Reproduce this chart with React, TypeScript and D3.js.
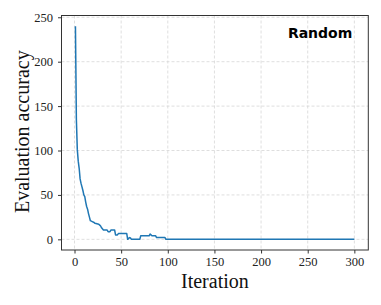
import React, { useRef, useEffect } from "react";
import * as d3 from "d3";

// change points of the evaluation curve (iteration, value)
const iterations = [1, 2, 3, 4, 5, 6, 7, 8, 9, 10, 11, 12, 13, 14, 15, 16, 17, 19, 21, 22, 26, 27, 28, 29, 31, 35, 36, 38, 39, 43, 44, 46, 47, 56, 57, 59, 60, 61, 70, 71, 80, 81, 82, 83, 87, 88, 97, 98, 300];
const values = [240, 135, 101, 88, 80, 68, 63, 59, 55, 50, 48, 42, 37, 34, 29, 25, 21, 20, 19, 18, 17, 16, 15, 13, 10.5, 10.5, 8.6, 8.6, 10.5, 10.5, 5, 5, 6.5, 6.5, 0, 2, 1.5, 0, 0, 4, 4, 6, 5, 4, 4, 2, 2, 0, 0];
const xTicks = [0, 50, 100, 150, 200, 250, 300];
const yTicks = [0, 50, 100, 150, 200, 250];

const W = 381;
const H = 305;
const margin = { top: 15.5, right: 12.7, bottom: 55, left: 61.5 };

const App: React.FC = () => {
  const svgRef = useRef<SVGSVGElement | null>(null);

  useEffect(() => {
    const svg = d3.select(svgRef.current);
    svg.selectAll("*").remove();

    const x0 = margin.left;
    const x1 = W - margin.right;
    const y0 = margin.top;
    const y1 = H - margin.bottom;

    const x = d3.scaleLinear().domain([-13.95, 314.95]).range([x0, x1]);
    const y = d3.scaleLinear().domain([-12, 252]).range([y1, y0]);

    const serif = "'Liberation Serif', 'Times New Roman', serif";

    // grid
    const grid = svg.append("g");
    grid
      .selectAll("line.gx")
      .data(xTicks)
      .join("line")
      .attr("x1", (d) => x(d))
      .attr("x2", (d) => x(d))
      .attr("y1", y0)
      .attr("y2", y1)
      .attr("stroke", "#d6d6d6")
      .attr("stroke-width", 0.8)
      .attr("stroke-dasharray", "3,2");
    grid
      .selectAll("line.gy")
      .data(yTicks)
      .join("line")
      .attr("x1", x0)
      .attr("x2", x1)
      .attr("y1", (d) => y(d))
      .attr("y2", (d) => y(d))
      .attr("stroke", "#d6d6d6")
      .attr("stroke-width", 0.8)
      .attr("stroke-dasharray", "3,2");

    // curve
    const pts = iterations.map((it, i) => [it, values[i]] as [number, number]);
    const line = d3
      .line<[number, number]>()
      .x((d) => x(d[0]))
      .y((d) => y(d[1]));
    svg
      .append("path")
      .datum(pts)
      .attr("d", line)
      .attr("fill", "none")
      .attr("stroke", "#1f77b4")
      .attr("stroke-width", 1.5)
      .attr("stroke-linejoin", "round");

    // axes
    const xAxis = svg
      .append("g")
      .attr("transform", `translate(0,${y1})`)
      .call(d3.axisBottom(x).tickValues(xTicks).tickSize(3.5).tickPadding(4).tickSizeOuter(0));
    const yAxis = svg
      .append("g")
      .attr("transform", `translate(${x0},0)`)
      .call(d3.axisLeft(y).tickValues(yTicks).tickSize(3.5).tickPadding(5).tickSizeOuter(0));
    [xAxis, yAxis].forEach((a) => {
      a.select(".domain").remove();
      a.selectAll("line").attr("stroke", "#333");
      a.selectAll("text")
        .attr("fill", "#222")
        .style("font-family", serif)
        .style("font-size", "12.5px");
    });

    // frame
    svg
      .append("rect")
      .attr("x", x0)
      .attr("y", y0)
      .attr("width", x1 - x0)
      .attr("height", y1 - y0)
      .attr("fill", "none")
      .attr("stroke", "#333")
      .attr("stroke-width", 1);

    // labels
    svg
      .append("text")
      .attr("x", (x0 + x1) / 2)
      .attr("y", 288.3)
      .attr("text-anchor", "middle")
      .style("font-family", serif)
      .style("font-size", "20px")
      .attr("fill", "#111")
      .text("Iteration");
    svg
      .append("text")
      .attr("transform", `translate(29,131.7) rotate(-90)`)
      .attr("text-anchor", "middle")
      .style("font-family", serif)
      .style("font-size", "20px")
      .attr("fill", "#111")
      .text("Evaluation accuracy");

    svg
      .append("text")
      .attr("x", 352.3)
      .attr("y", 38.3)
      .attr("text-anchor", "end")
      .style("font-family", "'DejaVu Sans', sans-serif")
      .style("font-weight", "bold")
      .style("font-size", "14px")
      .attr("fill", "#000")
      .text("Random");
  }, []);

  return (
    <svg
      ref={svgRef}
      width={W}
      height={H}
      style={{ position: "absolute", left: 0, top: 0, background: "white" }}
    />
  );
};

export default App;
